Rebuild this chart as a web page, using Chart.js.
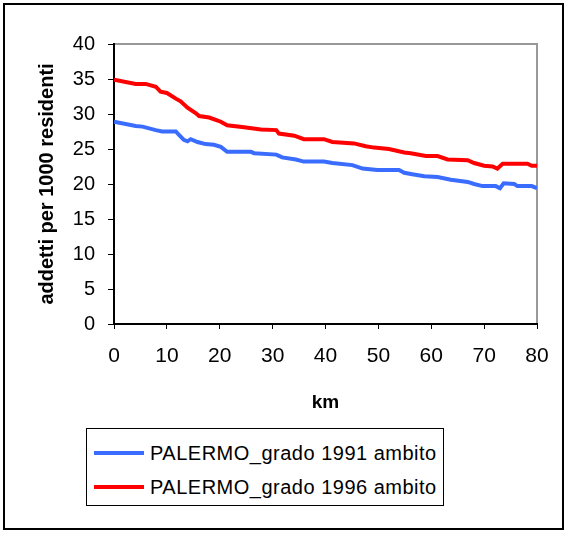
<!DOCTYPE html>
<html>
<head>
<meta charset="utf-8">
<script src="https://cdn.jsdelivr.net/npm/chart.js@4/dist/chart.umd.min.js"></script>
<style>
  html, body { margin: 0; padding: 0; background: #fff; }
  #wrap { position: relative; width: 568px; height: 533px; }
  #chart { position: absolute; left: 0; top: 0; }
  #frame {
    position: absolute; left: 3px; top: 3px; width: 557px; height: 523px;
    border: 2px solid #000; pointer-events: none;
  }
  #legend {
    position: absolute; left: 86px; top: 428px; width: 356px; height: 76px;
    border: 1px solid #000; background: #fff;
    font-family: "Liberation Sans", Arial, sans-serif; font-size: 20px;
    letter-spacing: 0.5px; color: #000;
  }
  .row { position: absolute; left: 7px; height: 24px; display: flex; align-items: center; }
  .swatch { width: 50px; height: 4px; margin-right: 6px; }
</style>
</head>
<body>
<div id="wrap">
  <canvas id="chart" width="568" height="533"></canvas>
  <div id="frame"></div>
  <div id="legend"></div>
</div>
<script>
// km distances and values
const kmBlue = [0, 4.1, 5.4, 7.9, 9.1, 11.7, 12.3, 13.2, 13.9, 14.5, 15.8, 17.3, 18.9, 20.2, 21.4,
  25.9, 26.5, 30.7, 31.8, 34.4, 35.9, 39.7, 41.3, 45.1, 47, 49.8, 53.9, 54.9, 56.4, 58.7,
  61.2, 63.7, 66.9, 68.1, 69.7, 72.2, 73, 73.7, 75.7, 76.3, 79, 80];
const blueValues = [28.9, 28.3, 28.2, 27.7, 27.5, 27.5, 27.0, 26.3, 26.1, 26.4, 26.0, 25.7, 25.6, 25.3, 24.6,
  24.6, 24.4, 24.2, 23.8, 23.5, 23.2, 23.2, 23.0, 22.7, 22.2, 22.0, 22.0, 21.6, 21.4, 21.1,
  21.0, 20.6, 20.3, 20.0, 19.7, 19.7, 19.4, 20.1, 20.0, 19.7, 19.7, 19.4];

const kmRed = [0, 4.1, 6, 7.9, 8.8, 10, 11.7, 12.6, 13.9, 15.5, 16.1, 18, 19.5, 20.2, 21.4,
  24.6, 27.8, 30.7, 31.2, 34.1, 35.9, 39.7, 41.3, 45.4, 47.6, 49.2, 52, 54.9, 56.1, 59,
  61.2, 63.1, 66.9, 68.1, 70, 71.6, 72.5, 73.5, 78.2, 79, 80];
const redValues = [34.9, 34.3, 34.3, 33.9, 33.2, 33.0, 32.2, 31.8, 30.9, 30.1, 29.7, 29.5, 29.1, 28.9, 28.4,
  28.1, 27.8, 27.7, 27.2, 26.9, 26.4, 26.4, 26.0, 25.8, 25.4, 25.2, 25.0, 24.5, 24.4, 24.0,
  24.0, 23.5, 23.4, 23.0, 22.6, 22.5, 22.2, 22.9, 22.9, 22.6, 22.6];

const seriesLabels = ["PALERMO_grado 1991 ambito", "PALERMO_grado 1996 ambito"];
const seriesColors = ["#3a6cff", "#ff0000"];

const xTitle = "km";
const yTitle = "addetti per 1000 residenti";

const FONT = "'Liberation Sans', Arial, sans-serif";

function toPoints(xs, ys) {
  return xs.map((x, i) => ({ x: x, y: ys[i] }));
}

// grey top/right edge of the plot area
const plotFrame = {
  id: "plotFrame",
  beforeDraw(chart) {
    const { ctx, chartArea: a } = chart;
    ctx.save();
    ctx.fillStyle = "#fff";
    ctx.fillRect(0, 0, chart.width, chart.height);
    ctx.strokeStyle = "#999";
    ctx.lineWidth = 2;
    ctx.strokeRect(a.left, a.top, a.right - a.left, a.bottom - a.top);
    ctx.restore();
  },
};

const ctx = document.getElementById("chart").getContext("2d");
const chart = new Chart(ctx, {
  type: "line",
  data: {
    datasets: [
      {
        label: seriesLabels[0],
        data: toPoints(kmBlue, blueValues),
        borderColor: seriesColors[0],
        borderWidth: 4,
        pointRadius: 0,
        tension: 0,
      },
      {
        label: seriesLabels[1],
        data: toPoints(kmRed, redValues),
        borderColor: seriesColors[1],
        borderWidth: 4,
        pointRadius: 0,
        tension: 0,
      },
    ],
  },
  options: {
    responsive: false,
    animation: false,
    devicePixelRatio: 1,
    layout: { padding: { left: 0, top: 44, right: 31, bottom: 119 } },
    plugins: { legend: { display: false }, tooltip: { enabled: false } },
    scales: {
      x: {
        type: "linear",
        min: 0,
        max: 80,
        afterFit: (s) => { s.height = 90; },
        ticks: { stepSize: 10, color: "#000", padding: 15, font: { family: FONT, size: 21 } },
        grid: { drawOnChartArea: false, tickLength: 5, tickColor: "#000", tickWidth: 1 },
        border: { color: "#000", width: 2 },
        title: {
          display: true,
          text: xTitle,
          color: "#000",
          padding: { top: 0, bottom: 0 },
          font: { family: FONT, size: 19, weight: "bold" },
        },
      },
      y: {
        min: 0,
        max: 40,
        afterFit: (s) => { s.width = 114; },
        ticks: { stepSize: 5, color: "#000", padding: 13, font: { family: FONT, size: 20 } },
        grid: { drawOnChartArea: false, tickLength: 6, tickColor: "#000", tickWidth: 1 },
        border: { color: "#000", width: 2 },
        title: {
          display: true,
          text: yTitle,
          color: "#000",
          padding: { top: 35, bottom: 0 },
          font: { family: FONT, size: 20, weight: "bold" },
        },
      },
    },
  },
  plugins: [plotFrame],
});

// html legend built from the datasets
const legend = document.getElementById("legend");
chart.data.datasets.forEach((ds, i) => {
  const row = document.createElement("div");
  row.className = "row";
  row.style.top = (12 + i * 34) + "px";
  const sw = document.createElement("span");
  sw.className = "swatch";
  sw.style.background = ds.borderColor;
  const txt = document.createElement("span");
  txt.textContent = ds.label;
  row.appendChild(sw);
  row.appendChild(txt);
  legend.appendChild(row);
});
</script>
</body>
</html>
